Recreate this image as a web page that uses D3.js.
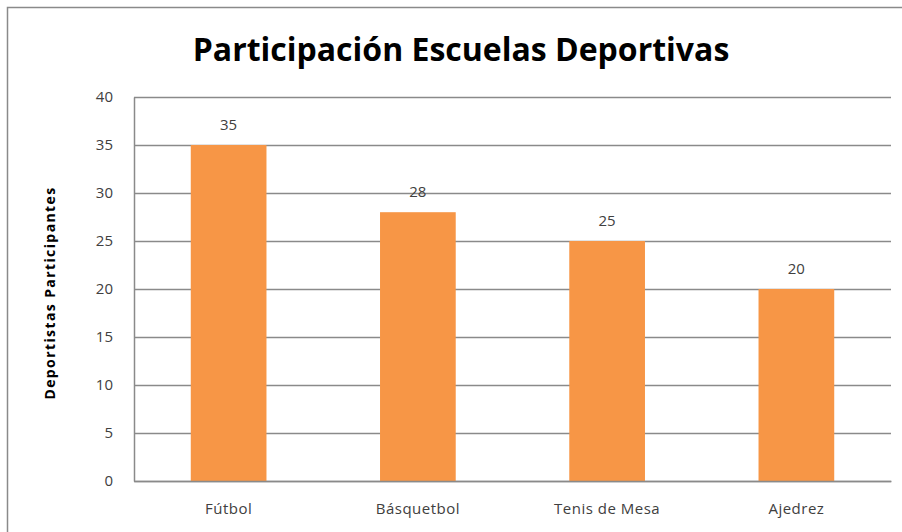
<!DOCTYPE html>
<html>
<head>
<meta charset="utf-8">
<script src="https://cdn.jsdelivr.net/npm/d3@7"></script>
<style>
  body { margin: 0; background: #fff; }
  svg { display: block; font-family: "Open Sans", sans-serif; }
</style>
</head>
<body>
<svg width="902" height="532"></svg>
<script>
const categories = ['Fútbol', 'Básquetbol', 'Tenis de Mesa', 'Ajedrez'];
const values = [35, 28, 25, 20];
const yTicks = [0, 5, 10, 15, 20, 25, 30, 35, 40];

const svg = d3.select('svg'),
    margin = {top: 97, right: 11, bottom: 51, left: 134},
    width = 902 - margin.left - margin.right,
    height = 532 - margin.top - margin.bottom;

// chart border (right and bottom edges run off the picture)
svg.append('rect')
    .attr('x', 7.5).attr('y', 7.5)
    .attr('width', 920).attr('height', 560)
    .attr('fill', 'none')
    .attr('stroke', '#8a8a8a')
    .attr('stroke-width', 1.5);

const g = svg.append('g').attr('transform', 'translate(' + margin.left + ',' + margin.top + ')');

const x = d3.scaleBand()
    .domain(categories)
    .range([0, width])
    .paddingInner(0.6)
    .paddingOuter(0.3);

const y = d3.scaleLinear()
    .domain([0, 40])
    .range([height, 0]);

// gridlines
g.append('g')
    .call(d3.axisLeft(y).tickValues(yTicks).tickSize(-width).tickFormat(''))
    .call(a => a.select('.domain').remove())
    .selectAll('line')
    .attr('stroke', '#8a8a8a')
    .attr('stroke-width', 1.5);

// y axis labels
g.append('g')
    .call(d3.axisLeft(y).tickValues(yTicks).tickSize(0).tickPadding(21))
    .call(a => a.select('.domain').attr('stroke', '#8a8a8a').attr('stroke-width', 1.5))
    .selectAll('text')
    .attr('font-size', 15)
    .attr('font-family', '"Open Sans", sans-serif')
    .attr('fill', '#404040');

g.selectAll('.bar')
    .data(values)
    .enter().append('rect')
    .attr('class', 'bar')
    .attr('x', (d, i) => x(categories[i]))
    .attr('y', d => y(d))
    .attr('width', x.bandwidth())
    .attr('height', d => height - y(d))
    .attr('fill', '#f79646');

g.selectAll('.value')
    .data(values)
    .enter().append('text')
    .attr('class', 'value')
    .attr('x', (d, i) => x(categories[i]) + x.bandwidth() / 2)
    .attr('y', d => y(d) - 15)
    .attr('text-anchor', 'middle')
    .attr('font-size', 15)
    .attr('fill', '#404040')
    .text(d => d);

// x axis labels
g.append('g')
    .attr('transform', 'translate(0,' + height + ')')
    .call(d3.axisBottom(x).tickSize(0).tickPadding(22))
    .call(a => a.select('.domain').attr('stroke', '#8a8a8a').attr('stroke-width', 1.5))
    .selectAll('text')
    .attr('font-size', 15)
    .attr('font-family', '"Open Sans", sans-serif')
    .attr('letter-spacing', 0.5)
    .attr('fill', '#404040');

svg.append('text')
    .attr('x', 461)
    .attr('y', 61)
    .attr('text-anchor', 'middle')
    .attr('font-size', 32)
    .attr('font-weight', 'bold')
    .attr('fill', '#000')
    .text('Participación Escuelas Deportivas');

svg.append('text')
    .attr('transform', 'translate(55,293) rotate(-90)')
    .attr('text-anchor', 'middle')
    .attr('font-size', 14)
    .attr('font-weight', 'bold')
    .attr('letter-spacing', 1.4)
    .attr('fill', '#000')
    .text('Deportistas Participantes');
</script>
</body>
</html>
